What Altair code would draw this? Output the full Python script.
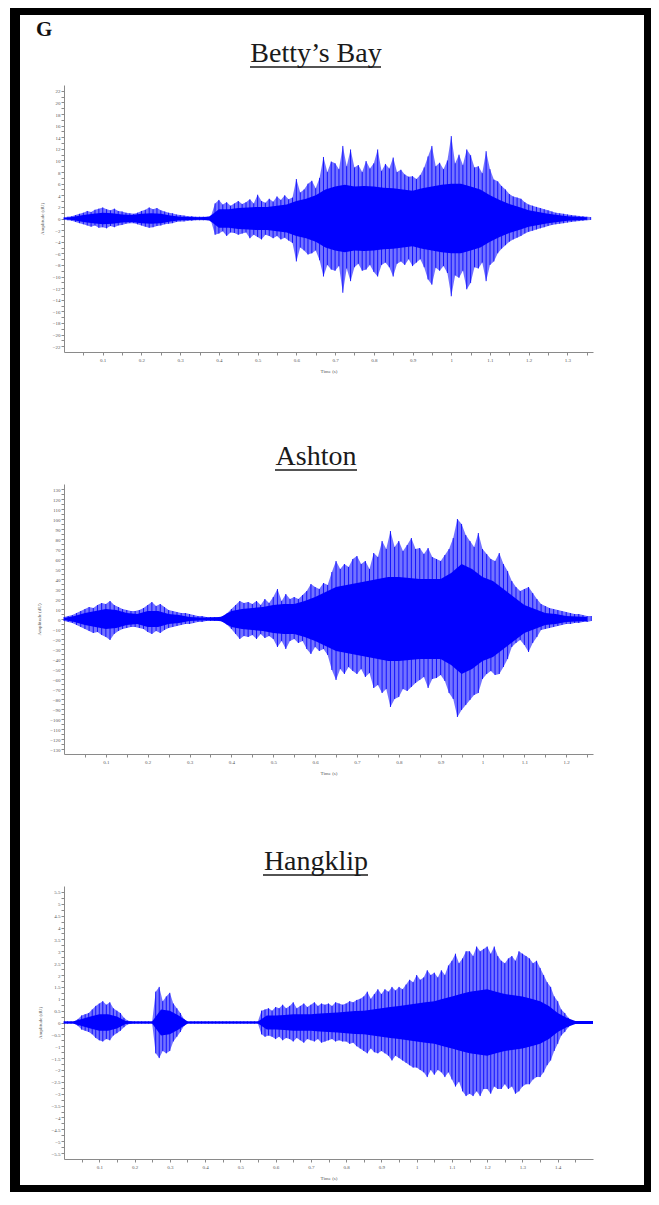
import altair as alt
import pandas as pd

# ---------------- data (peak envelopes) ----------------
STEP = 0.01         # spacing of peak readings (s)
CORE_STEP = 0.025   # spacing of dense-core readings (s)

# Betty's Bay
BB_HI = [0.2,0.3,0.4,0.6,0.8, 1.0,1.3,1.1,1.5,1.7, 1.9,1.6,1.4,1.7,1.3, 1.2,1.0,0.9,0.8,1.0,
         1.3,1.5,1.9,1.6,1.8, 1.4,1.2,1.0,0.9,0.7, 0.6,0.5,0.4,0.4,0.3, 0.3,0.3,0.3,0.5,2.6,
         3.2,2.4,2.8,2.2,2.6, 3.0,2.5,2.8,3.3,2.6, 4.1,3.0,2.7,3.4,2.9, 3.8,3.2,4.0,3.3,3.6,
         6.8,4.5,5.0,6.0,6.5, 5.2,7.0,10.6,8.0,9.8, 9.5,8.5,12.5,9.0,11.9, 8.8,9.2,8.0,9.9,8.6,
         9.5,11.9,8.2,9.4,8.6, 10.5,8.0,8.4,7.6,7.2, 7.3,6.8,7.5,8.8,10.7, 12.5,9.0,9.6,8.5,10.0,
         14.2,9.5,11.0,9.2,11.9, 10.9,8.8,9.0,7.8,11.6, 8.5,6.7,6.4,5.6,5.0, 4.2,3.8,3.6,3.4,2.8,
         2.4,2.2,2.0,1.8,1.6, 1.4,1.2,1.0,0.9,0.8, 0.7,0.6,0.5,0.45,0.4,0.3,0.25]
BB_LO = [-0.2,-0.3,-0.4,-0.6,-0.8, -1.0,-1.2,-1.4,-1.2,-1.6, -1.5,-1.7,-1.3,-1.5,-1.2, -1.1,-0.9,-0.8,-0.8,-1.0,
         -1.2,-1.4,-1.6,-1.5,-1.3, -1.2,-1.0,-0.9,-0.8,-0.6, -0.5,-0.5,-0.4,-0.4,-0.3, -0.3,-0.3,-0.3,-0.5,-2.8,
         -2.6,-2.2,-3.0,-2.4,-2.5, -2.8,-2.6,-2.4,-3.4,-2.8, -3.2,-3.6,-2.8,-3.0,-3.4, -3.0,-3.6,-3.3,-3.8,-4.2,
         -7.4,-5.0,-5.5,-6.2,-6.0, -5.5,-7.2,-10.0,-8.0,-8.8, -9.0,-8.2,-12.8,-8.6,-10.8, -8.4,-7.8,-9.0,-8.8,-8.0,
         -9.2,-10.0,-8.0,-7.6,-8.4, -10.0,-7.8,-7.4,-8.0,-7.0, -8.2,-7.6,-7.0,-8.4,-10.5, -11.4,-8.5,-9.0,-8.2,-9.4,
         -13.4,-9.8,-10.2,-9.0,-12.2, -11.1,-8.4,-8.6,-7.6,-10.8, -8.0,-7.4,-6.0,-5.2,-4.6, -4.0,-3.6,-3.3,-3.0,-2.6,
         -2.3,-2.1,-1.9,-1.7,-1.5, -1.3,-1.1,-1.0,-0.9,-0.8, -0.7,-0.6,-0.5,-0.45,-0.4,-0.3,-0.25]
BB_CORE = [0.1,0.3,0.6,0.8,1.0, 0.9,0.7,0.6,0.8,0.9, 0.8,0.5,0.3,0.25,0.2, 0.3,1.6,1.6,1.8,1.9,
           2.0,2.0,2.2,2.4,3.0, 3.4,4.0,5.0,5.5,5.8, 5.5,5.6,5.5,5.3,5.2, 5.0,4.8,5.2,5.5,5.8,
           6.0,6.0,5.5,5.0,4.0, 3.2,2.5,2.0,1.4,1.1, 0.8,0.6,0.4,0.3,0.2]

# Ashton
AS_HI = [2,3,4,6,8, 10,12,11,14,16, 15,18,14,12,10, 9,8,8,9,11, 14,17,13,15,12, 9,8,7,6,6,
         5,4,3,3,2, 2,2,2,3,6, 10,14,18,16,17, 15,18,14,20,16, 22,30,18,25,20, 22,20,24,28,35,
         32,30,36,34,47, 58,50,55,52,60, 63,55,58,50,66, 62,78,70,88,72, 78,68,74,81,70,
         71,65,71,62,60, 58,64,70,81,100, 95,84,78,72,86, 70,65,60,58,66, 55,48,38,32,28,
         30,32,26,20,15, 13,11,10,9,8, 7,6,5,5,4, 3,3]
AS_LO = [-2,-3,-4,-6,-8, -10,-12,-14,-13,-16, -18,-21,-15,-12,-10, -9,-8,-8,-9,-10, -13,-15,-12,-14,-11,
         -9,-8,-7,-6,-5, -5,-4,-3,-3,-2, -2,-2,-2,-3,-6, -10,-15,-20,-17,-18, -16,-20,-15,-19,-17,
         -20,-28,-22,-30,-22, -20,-24,-22,-30,-35, -28,-32,-30,-36,-51, -61,-50,-55,-48,-52,
         -55,-50,-58,-54,-69, -66,-74,-70,-88,-80, -78,-70,-72,-68,-64, -61,-58,-69,-60,-59,
         -56,-62,-74,-80,-98, -91,-86,-81,-76,-74, -60,-55,-52,-56,-55, -48,-40,-28,-24,-21,
         -26,-33,-24,-18,-11, -10,-9,-8,-7,-6, -5,-5,-4,-4,-3, -3,-2]
AS_CORE = [1,3,6,8,10, 9,6,5,8,8, 5,4,2,1.5,1.5, 2,8,10,11,12, 14,15,15,18,22,
           27,32,34,36,38, 40,42,42,41,40, 40,40,46,55,50, 42,38,30,22,14, 10,6,5,3,2.5, 2]

# Hangklip
HK_HI = [0.05,0.05,0.05,0.05,0.15, 0.3,0.35,0.4,0.55,0.7, 0.8,0.9,0.75,0.85,0.6, 0.5,0.4,0.2,0.08,0.05,
         0.05,0.05,0.05,0.05,0.05, 0.05,1.3,1.5,0.9,1.1, 1.25,0.8,0.6,0.4,0.15, 0.05,0.05,0.05,0.05,0.05,
         0.05,0.05,0.05,0.05,0.05, 0.05,0.05,0.05,0.05,0.05, 0.05,0.05,0.05,0.05,0.05, 0.05,0.5,0.55,0.6,0.5,
         0.65,0.6,0.75,0.6,0.7, 0.85,0.6,0.7,0.8,0.65, 0.75,0.85,0.7,0.8,0.75, 0.8,0.7,0.85,0.8,0.75,
         0.8,0.9,0.85,0.95,1.0, 1.1,1.3,1.0,1.2,1.4, 1.2,1.4,1.3,1.5,1.35, 1.5,1.4,1.6,1.8,1.7,
         2.0,1.8,1.9,2.2,2.0, 2.1,1.9,2.2,2.0,2.4, 2.6,2.9,2.5,2.7,3.0, 3.0,2.8,3.2,3.0,3.1,
         3.2,2.9,3.2,2.8,2.6, 2.5,2.7,2.8,2.6,3.0, 2.9,2.8,2.7,2.5,2.6, 2.3,2.0,1.7,1.5,1.1,
         0.9,0.55,0.4,0.2,0.06, 0.06,0.06,0.06,0.06,0.06]
HK_LO = [-0.05,-0.05,-0.05,-0.05,-0.15, -0.3,-0.35,-0.4,-0.5,-0.65, -0.75,-0.8,-0.7,-0.75,-0.55, -0.45,-0.35,-0.2,-0.08,-0.05,
         -0.05,-0.05,-0.05,-0.05,-0.05, -0.05,-1.3,-1.5,-1.2,-1.3, -1.2,-0.8,-0.6,-0.4,-0.15, -0.05,-0.05,-0.05,-0.05,-0.05,
         -0.05,-0.05,-0.05,-0.05,-0.05, -0.05,-0.05,-0.05,-0.05,-0.05, -0.05,-0.05,-0.05,-0.05,-0.05, -0.05,-0.5,-0.6,-0.55,-0.6,
         -0.7,-0.6,-0.75,-0.65,-0.7, -0.8,-0.65,-0.75,-0.85,-0.7, -0.75,-0.8,-0.7,-0.85,-0.8, -0.75,-0.7,-0.8,-0.75,-0.8,
         -0.8,-0.9,-0.85,-1.0,-1.1, -1.2,-1.3,-1.1,-1.25,-1.3, -1.2,-1.3,-1.4,-1.6,-1.4, -1.5,-1.6,-1.7,-1.8,-1.9,
         -1.9,-2.0,-2.1,-2.3,-2.0, -2.2,-2.0,-2.1,-2.3,-2.1, -2.4,-2.7,-2.5,-2.9,-3.1, -3.0,-3.1,-2.9,-3.1,-2.8,
         -2.8,-3.0,-2.7,-2.8,-2.8, -2.6,-2.8,-2.7,-3.0,-2.9, -2.7,-2.6,-2.6,-2.4,-2.3, -2.3,-2.1,-1.8,-1.6,-1.2,
         -0.9,-0.55,-0.4,-0.2,-0.06, -0.06,-0.06,-0.06,-0.06,-0.06]
HK_CORE = [0.04,0.04,0.15,0.25,0.35, 0.35,0.25,0.06,0.04,0.04, 0.04,0.55,0.5,0.3,0.04,
           0.04,0.04,0.04,0.04,0.04, 0.04,0.04,0.04,0.3,0.3, 0.32,0.35,0.35,0.35,0.38,
           0.4,0.42,0.45,0.48,0.5, 0.55,0.6,0.65,0.7,0.75, 0.8,0.85,0.9,1.0,1.1,
           1.2,1.3,1.35,1.4,1.3, 1.2,1.15,1.1,1.0,0.9, 0.7,0.4,0.2,0.06,0.06, 0.06]

TITLES = ["Betty\u2019s Bay", "Ashton", "Hangklip"]
PANEL_LETTER = "G"
X_TITLE = "Time (s)"
Y_TITLE = "Amplitude (dU)"

# ---------------- styling ----------------
BLUE = "#0000ff"
SERIF = "Liberation Serif"
W = 529
AXIS_GREY = "#8a8a8a"
LABEL_GREY = "#555555"


def ticks(lo, hi, step):
    n = int(round((hi - lo) / step))
    return [round(lo + i * step, 4) for i in range(n + 1)]


def label_expr(major):
    return (f"abs(datum.value/{major} - round(datum.value/{major})) < 0.001 "
            f"? format(datum.value, '.1~f') : ''")


def panel(hi, lo, core, xmax, ylim, ystep, ymajor, xmax_tick, height, title,
          title_y, ul_x1, ul_x2, extra=None):
    peaks = pd.DataFrame({"t": [round(i * STEP, 3) for i in range(len(hi))],
                          "hi": hi, "lo": lo})
    cores = pd.DataFrame({"t": [round(i * CORE_STEP, 3) for i in range(len(core))],
                          "chi": core, "clo": [-v for v in core]})

    ymax, ytop = ylim
    xscale = alt.Scale(domain=[0, xmax], nice=False, zero=False)
    yscale = alt.Scale(domain=[-ymax, ymax], nice=False, zero=False)
    xaxis = alt.Axis(values=ticks(0.05, xmax_tick, 0.05), labelExpr=label_expr(0.1),
                     title=X_TITLE, titleFont=SERIF, titleFontSize=5, titleFontWeight="normal",
                     titleColor=LABEL_GREY, titlePadding=6,
                     labelFont=SERIF, labelFontSize=5, labelColor=LABEL_GREY, labelPadding=2,
                     labelOverlap=False, labelFlush=False,
                     tickSize=3, tickColor=AXIS_GREY, domainColor=AXIS_GREY, grid=False)
    yaxis = alt.Axis(values=ticks(-ytop, ytop, ystep), labelExpr=label_expr(ymajor),
                     title=Y_TITLE, titleFont=SERIF, titleFontSize=5, titleFontWeight="normal",
                     titleColor=LABEL_GREY, titlePadding=8,
                     labelFont=SERIF, labelFontSize=5, labelColor=LABEL_GREY, labelPadding=1,
                     labelOverlap=False, labelFlush=False,
                     tickSize=3, tickColor=AXIS_GREY, domainColor=AXIS_GREY, grid=False)

    env_area = alt.Chart(peaks).mark_area(color=BLUE, opacity=0.55).encode(
        x=alt.X("t:Q", scale=xscale, axis=xaxis),
        y=alt.Y("hi:Q", scale=yscale, axis=yaxis),
        y2="lo:Q",
    )
    core_area = alt.Chart(cores).mark_area(color=BLUE, opacity=1).encode(
        x=alt.X("t:Q", scale=xscale, axis=xaxis),
        y=alt.Y("chi:Q", scale=yscale, axis=yaxis),
        y2="clo:Q",
    )
    spikes = alt.Chart(peaks).mark_rule(color=BLUE, strokeWidth=1, opacity=0.85).encode(
        x=alt.X("t:Q", scale=xscale, axis=xaxis),
        y=alt.Y("hi:Q", scale=yscale, axis=yaxis),
        y2="lo:Q",
    )
    ttl = alt.Chart(alt.Data(values=[{"label": title}])).mark_text(
        font=SERIF, fontSize=28, color="#1a1a1a", align="center", baseline="alphabetic"
    ).encode(text="label:N", x=alt.value(252), y=alt.value(title_y))
    underline = alt.Chart(alt.Data(values=[{"u": 1}])).mark_rule(
        color="#1a1a1a", strokeWidth=1.4
    ).encode(x=alt.value(ul_x1), x2=alt.value(ul_x2), y=alt.value(title_y + 5))

    layers = [env_area, core_area, spikes, ttl, underline]
    if extra:
        layers += extra
    return alt.layer(*layers).properties(width=W, height=height)


# black frame (four bars) and panel letter, positioned relative to the first panel
def bar(x1, x2, y1, y2):
    return alt.Chart(alt.Data(values=[{"b": 1}])).mark_rect(color="black").encode(
        x=alt.value(x1), x2=alt.value(x2), y=alt.value(y1), y2=alt.value(y2))


frame = [bar(-54, 587, -77, -70),     # top
         bar(-54, -44, -77, 1107),    # left
         bar(580, 587, -77, 1107),    # right
         bar(-54, 587, 1100, 1107)]   # bottom
letter = alt.Chart(alt.Data(values=[{"g": PANEL_LETTER}])).mark_text(
    font=SERIF, fontSize=21, fontWeight="bold", color="#111111", align="left",
    baseline="alphabetic"
).encode(text="g:N", x=alt.value(-28), y=alt.value(-49))

p1 = panel(BB_HI, BB_LO, BB_CORE, 1.366, (23, 22), 1, 2, 1.35, 267, TITLES[0], -23, 186, 317,
           extra=frame + [letter])
p2 = panel(AS_HI, AS_LO, AS_CORE, 1.264, (135, 130), 5, 10, 1.25, 270, TITLES[1], -19, 211, 293)
p3 = panel(HK_HI, HK_LO, HK_CORE, 1.5, (5.75, 5.5), 0.25, 0.5, 1.45, 273, TITLES[2], -16, 199, 304)

chart = alt.vconcat(p1, p2, p3, spacing=132, bounds="flush").properties(
    padding={"left": 2, "top": 0, "right": 0, "bottom": 0},
    background="white",
).configure_view(strokeWidth=0)

chart.save("out.html", embed_options={"renderer": "svg", "actions": False})
